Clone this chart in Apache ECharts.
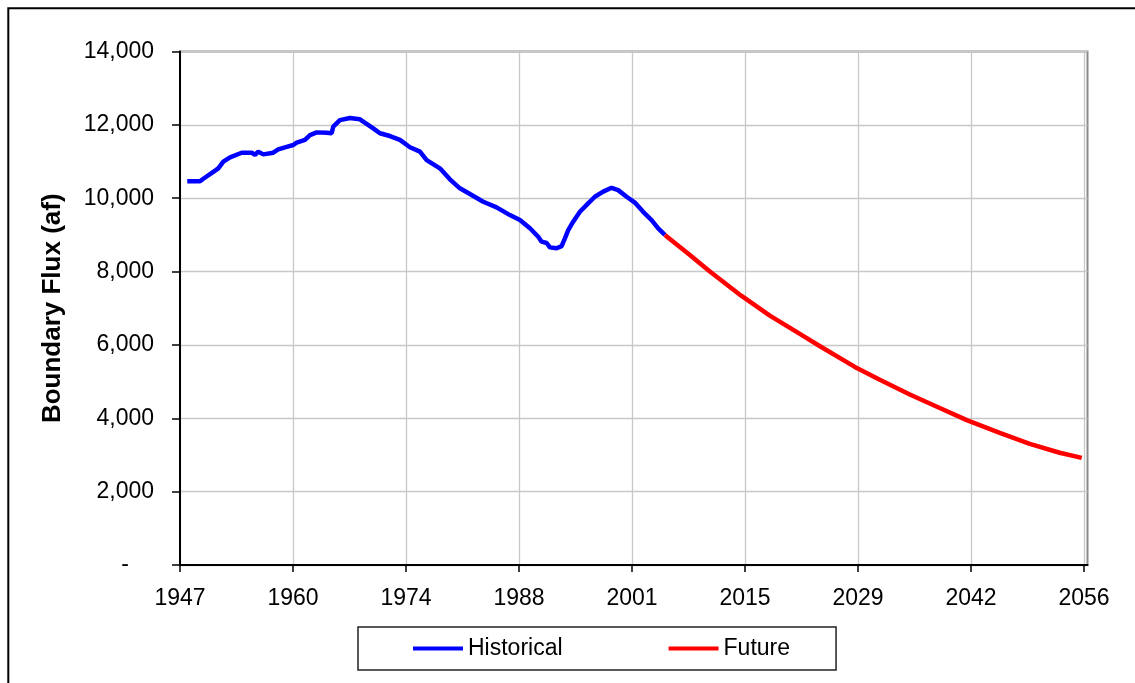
<!DOCTYPE html>
<html>
<head>
<meta charset="utf-8">
<script src="https://cdn.jsdelivr.net/npm/echarts@6/dist/echarts.min.js"></script>
<style>
html,body{margin:0;padding:0;background:#fff;}
#chart{width:1135px;height:683px;}
</style>
</head>
<body>
<div id="chart"></div>
<script>
// ---- data (decimal years, acre-feet) ----
const startYear = 1947;
const histYears = [1947.88,1949.42,1949.82,1951.03,1951.63,1952.24,1953.05,1954.46,1955.67,1956.07,1956.47,1957.07,1958.28,1958.88,1959.90,1960.70,1961.11,1962.11,1962.72,1963.53,1964.74,1965.34,1965.53,1966.34,1967.55,1968.76,1968.97,1970.37,1971.18,1972.39,1973.60,1974.81,1976.02,1976.83,1978.43,1979.64,1980.85,1982.06,1983.67,1985.29,1986.90,1988.11,1989.32,1990.32,1990.73,1991.34,1991.73,1992.54,1993.15,1993.55,1993.95,1994.55,1995.36,1996.36,1997.17,1998.18,1999.19,1999.99,2001.01,2002.01,2003.01,2004.03,2004.83,2005.64];
const histFlux  = [10460,10460,10530,10720,10815,11000,11115,11240,11240,11180,11270,11195,11240,11330,11400,11450,11515,11590,11720,11795,11785,11770,11950,12130,12185,12150,12105,11905,11770,11695,11590,11390,11270,11040,10815,10515,10270,10115,9905,9750,9540,9405,9180,8950,8815,8780,8660,8635,8695,8905,9130,9360,9630,9860,10040,10180,10285,10220,10040,9880,9630,9405,9180,9000];
const futYears = [2005.64,2008.66,2011.08,2014.83,2018.33,2021.96,2024.50,2028.61,2031.63,2035.26,2038.88,2042.15,2046.14,2049.77,2053.39,2056.05];
const futFlux  = [9000,8450,8000,7350,6800,6300,5950,5400,5050,4650,4280,3950,3600,3300,3060,2920];
const xTickMonths = [0,164,328,492,656,820,984,1148,1312];
const yTicks = [0,2000,4000,6000,8000,10000,12000,14000];

const toPts = (ys, vs) => ys.map((y, i) => [(y - startYear) * 12, vs[i]]);

const chart = echarts.init(document.getElementById('chart'), null, {renderer: 'canvas'});
const FONT = 'Liberation Sans, Arial, sans-serif';
chart.setOption({
  animation: false,
  backgroundColor: '#ffffff',
  graphic: [{
    type: 'rect', silent: true, z: -10,
    shape: {x: 8.3, y: 8.3, width: 1160, height: 720},
    style: {fill: 'none', stroke: '#000', lineWidth: 2}
  }],
  grid: {
    left: 180, right: 47.5, top: 51.5, bottom: 118,
    show: true, borderColor: '#8a8a8a', borderWidth: 2, backgroundColor: 'transparent'
  },
  xAxis: {
    type: 'value', min: 0, max: 1317, interval: 164,
    axisLine: {lineStyle: {color: '#000', width: 2}},
    axisTick: {show: true, length: 7, customValues: xTickMonths, lineStyle: {color: '#000', width: 1.5}},
    axisLabel: {
      customValues: xTickMonths,
      margin: 22, fontSize: 23, color: '#000', fontFamily: FONT,
      formatter: v => String(Math.floor(startYear + v / 12))
    },
    splitLine: {show: true, lineStyle: {color: '#c8c8c8', width: 1.3}}
  },
  yAxis: {
    type: 'value', min: 0, max: 14000, interval: 2000,
    axisLine: {show: true, lineStyle: {color: '#000', width: 2}},
    axisTick: {show: true, length: 8, lineStyle: {color: '#000', width: 1.5}},
    axisLabel: {
      margin: 26, fontSize: 23, color: '#000', fontFamily: FONT,
      formatter: v => v === 0 ? '{d|-}' : v.toLocaleString('en-US'),
      rich: {d: {fontSize: 23, fontFamily: FONT, color: '#000', padding: [0, 25, 0, 0]}}
    },
    splitLine: {show: true, lineStyle: {color: '#c8c8c8', width: 1.3}},
    name: 'Boundary Flux (af)',
    nameLocation: 'middle', nameGap: 114,
    nameTextStyle: {fontSize: 26, fontWeight: 'bold', color: '#000', fontFamily: FONT}
  },
  legend: {
    left: 358, top: 627,
    padding: [10, 46, 10, 55],
    itemGap: 106, itemWidth: 50, itemHeight: 4,
    icon: 'rect',
    borderColor: '#222', borderWidth: 1.5, backgroundColor: '#fff',
    textStyle: {fontSize: 23, color: '#000', fontFamily: FONT, padding: [0, 0, 0, 0]},
    data: ['Historical', 'Future']
  },
  series: [
    {name: 'Historical', type: 'line', data: toPts(histYears, histFlux), showSymbol: false, symbol: 'none',
     lineStyle: {color: '#0000ff', width: 4.5}, itemStyle: {color: '#0000ff'}},
    {name: 'Future', type: 'line', data: toPts(futYears, futFlux), showSymbol: false, symbol: 'none',
     lineStyle: {color: '#ff0000', width: 4.5}, itemStyle: {color: '#ff0000'}}
  ]
});
</script>
</body>
</html>
